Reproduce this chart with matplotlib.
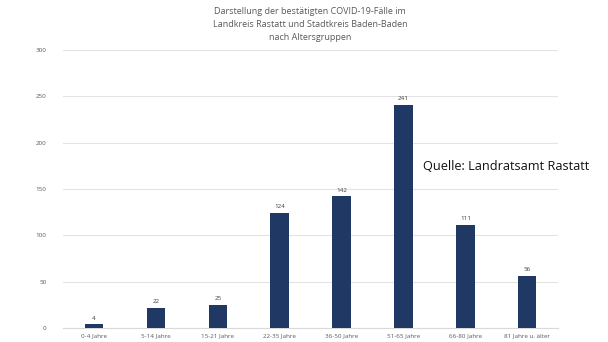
import matplotlib
matplotlib.use('Agg')
import matplotlib.pyplot as plt

gruppen = ['0-4 Jahre', '5-14 Jahre', '15-21 Jahre', '22-35 Jahre',
           '36-50 Jahre', '51-65 Jahre', '66-80 Jahre', '81 Jahre u. älter']
faelle = [4, 22, 25, 124, 142, 241, 111, 56]

plt.rcParams['font.family'] = ['Open Sans', 'DejaVu Sans']

fig = plt.figure(figsize=(6.08, 3.42), dpi=100)
ax = fig.add_axes([0.104, 0.041, 0.814, 0.813])

x = range(len(gruppen))
bars = ax.bar(x, faelle, width=0.3, color='#1f3864', zorder=3)
for xi, v in zip(x, faelle):
    ax.text(xi, v + 4, str(v), ha='center', va='bottom', fontsize=4.5, color='#404040')

ax.set_xlim(-0.5, len(gruppen) - 0.5)
ax.set_ylim(0, 300)
ax.set_yticks(range(0, 301, 50))
ax.set_xticks(list(x))
ax.set_xticklabels(gruppen)
ax.tick_params(axis='both', length=0, labelsize=4.5, colors='#595959')
ax.tick_params(axis='y', pad=12)
ax.tick_params(axis='x', pad=4)
ax.grid(axis='y', color='#e3e3e3', linewidth=0.8, zorder=0)
for s in ['top', 'right', 'left']:
    ax.spines[s].set_visible(False)
ax.spines['bottom'].set_color('#d9d9d9')

fig.text(0.51, 0.98, 'Darstellung der bestätigten COVID-19-Fälle im\n'
         'Landkreis Rastatt und Stadtkreis Baden-Baden\nnach Altersgruppen',
         ha='center', va='top', fontsize=6.5, color='#595959', linespacing=1.6)
fig.text(0.696, 0.513, 'Quelle: Landratsamt Rastatt', ha='left', va='center',
         fontsize=9.2, fontweight='medium', color='#111111')

fig.savefig('out.png', dpi=100)
